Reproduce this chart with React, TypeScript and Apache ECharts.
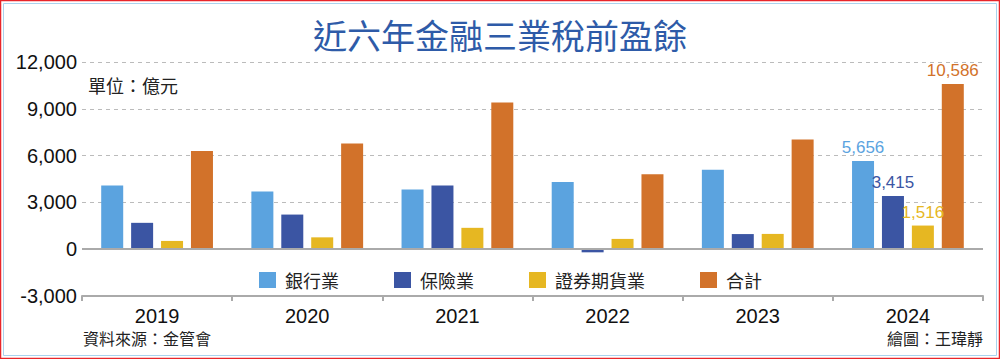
import React, { useEffect, useRef } from "react";
import * as echarts from "echarts";

const years = ["2019", "2020", "2021", "2022", "2023", "2024"];
const bank = [4080, 3700, 3830, 4300, 5090, 5656];
const insurance = [1690, 2220, 4090, -200, 970, 3415];
const securities = [530, 760, 1370, 660, 980, 1516];
const total = [6300, 6770, 9400, 4810, 7040, 10586];
const seriesNames = ["銀行業", "保險業", "證券期貨業", "合計"];
const colors = ["#5BA3DF", "#3B55A3", "#E6B722", "#D2722A"];
const yTicks = { min: -3000, max: 12000, interval: 3000 };

const CJK = '"Noto Sans CJK TC", "Noto Sans", sans-serif';
const NUM = '"Liberation Sans", Arial, sans-serif';

export default function App() {
  const ref = useRef<HTMLDivElement>(null);
  useEffect(() => {
    document.body.style.margin = "0";
    const chart = echarts.init(ref.current!, null, { renderer: "svg" });
    const allData = [bank, insurance, securities, total];
    const series = allData.map((arr, i) => ({
      name: seriesNames[i],
      type: "bar",
      barWidth: 22,
      barGap: "36%",
      itemStyle: { color: colors[i] },
      data: arr.map((v, idx) =>
        idx === arr.length - 1
          ? {
              value: v,
              label: {
                show: true,
                position: "top",
                distance: 5,
                color: colors[i],
                fontFamily: NUM,
                fontSize: 17,
                formatter: (p: any) => Number(p.value).toLocaleString("en-US"),
              },
            }
          : v
      ),
      markLine:
        i === 0
          ? {
              silent: true,
              symbol: "none",
              label: { show: false },
              lineStyle: { color: "#AAAAAA", width: 2, type: "solid" },
              data: [{ yAxis: 0 }],
            }
          : undefined,
    }));
    chart.setOption({
      animation: false,
      backgroundColor: "#FFFFFF",
      title: {
        text: "近六年金融三業稅前盈餘",
        left: "center",
        top: 12,
        textStyle: { color: "#2E5BA8", fontSize: 34, fontWeight: "normal", fontFamily: CJK },
      },
      grid: { left: 82, right: 17, top: 62, bottom: 63, containLabel: false },
      legend: {
        data: seriesNames,
        left: 254,
        top: 266,
        itemWidth: 17,
        itemHeight: 16,
        itemGap: 55,
        icon: "rect",
        textStyle: { fontSize: 18, color: "#222", fontFamily: CJK, padding: [0, 0, 0, 4] },
      },
      xAxis: {
        type: "category",
        data: years,
        axisLine: { onZero: false, lineStyle: { color: "#AAAAAA", width: 2 } },
        axisTick: { show: true, length: 5, lineStyle: { color: "#AAAAAA", width: 2 } },
        axisLabel: { fontSize: 20, color: "#111", fontFamily: NUM, margin: 10 },
      },
      yAxis: {
        type: "value",
        min: yTicks.min,
        max: yTicks.max,
        interval: yTicks.interval,
        axisLine: { show: false },
        axisTick: { show: false },
        axisLabel: {
          fontSize: 20,
          color: "#111",
          fontFamily: NUM,
          margin: 5,
          formatter: (v: number) => v.toLocaleString("en-US"),
        },
        splitLine: { lineStyle: { color: "#BBBBBB", type: [4, 4], width: 1 } },
      },
      graphic: [
        { type: "rect", shape: { x: 0.5, y: 0.5, width: 999, height: 358 }, style: { fill: "none", stroke: "#E8252A", lineWidth: 1.5 }, silent: true },
        { type: "rect", shape: { x: 3.5, y: 3.5, width: 993, height: 352 }, style: { fill: "none", stroke: "#A9D3EE", lineWidth: 1 }, silent: true },
        { type: "text", left: 88, top: 76, style: { text: "單位：億元", fontSize: 18, fill: "#222", fontFamily: CJK } },
        { type: "text", left: 83, top: 330, style: { text: "資料來源：金管會", fontSize: 16, fill: "#222", fontFamily: CJK } },
        { type: "text", right: 17, top: 330, style: { text: "繪圖：王瑋靜", fontSize: 16, fill: "#222", fontFamily: CJK } },
      ],
      series,
    });
    return () => chart.dispose();
  }, []);
  return <div ref={ref} style={{ width: 1000, height: 359 }} />;
}
